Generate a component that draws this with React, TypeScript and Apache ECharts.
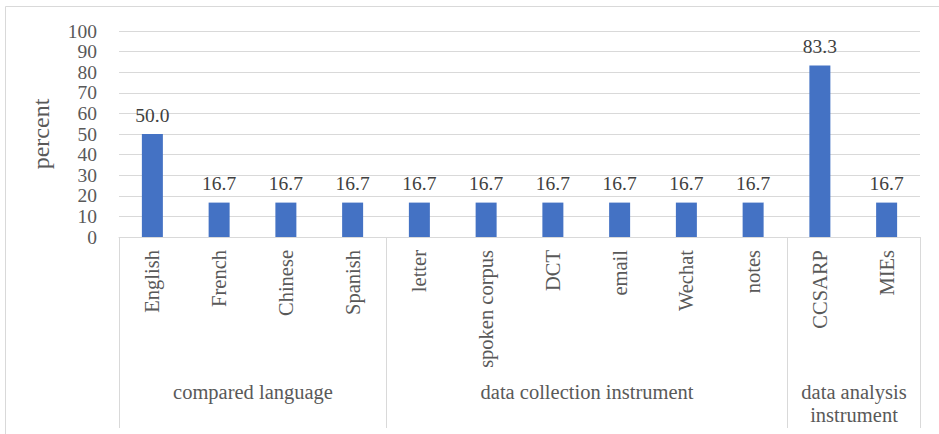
import React, { useEffect, useRef } from "react";
import * as echarts from "echarts";

// Category labels along the x axis
const categories = [
  "English", "French", "Chinese", "Spanish",
  "letter", "spoken corpus", "DCT", "email", "Wechat", "notes",
  "CCSARP", "MIEs",
];

// Percent of studies for each category
const percents = [50.0, 16.7, 16.7, 16.7, 16.7, 16.7, 16.7, 16.7, 16.7, 16.7, 83.3, 16.7];

// Second-level groups: label and number of categories in the group
const groupNames = ["compared language", "data collection instrument", "data analysis\ninstrument"];
const groupSizes = [4, 6, 2];

const FONT = "Times New Roman, Liberation Serif, DejaVu Serif, serif";
const TEXT = "#595959";
const LINE = "#d9d9d9";

export default function App() {
  const ref = useRef<HTMLDivElement>(null);

  useEffect(() => {
    if (!ref.current) return;
    const chart = echarts.init(ref.current, null, { renderer: "svg" });

    chart.setOption({
      animation: false,
      backgroundColor: "#ffffff",
      textStyle: { fontFamily: FONT },
      grid: { left: 119, right: 19, top: 31, bottom: 197 },
      xAxis: {
        type: "category",
        data: categories,
        axisLine: { show: true, lineStyle: { color: LINE, width: 1 } },
        axisTick: { show: false },
        axisLabel: {
          rotate: 90,
          margin: 13,
          color: TEXT,
          fontFamily: FONT,
          fontSize: 20.5,
          interval: 0,
        },
      },
      yAxis: {
        type: "value",
        min: 0,
        max: 100,
        interval: 10,
        name: "percent",
        nameLocation: "middle",
        nameGap: 66,
        nameRotate: 90,
        nameTextStyle: { color: TEXT, fontFamily: FONT, fontSize: 24 },
        axisLine: { show: false },
        axisTick: { show: false },
        axisLabel: { margin: 22, color: TEXT, fontFamily: FONT, fontSize: 19.5 },
        splitLine: { show: true, lineStyle: { color: LINE, width: 1 } },
      },
      series: [
        {
          type: "bar",
          data: percents,
          barWidth: 21,
          itemStyle: { color: "#4472C4" },
          label: {
            show: true,
            position: "top",
            distance: 9,
            color: "#404040",
            fontFamily: FONT,
            fontSize: 19.5,
            formatter: (p: any) => Number(p.value).toFixed(1),
          },
        },
      ],
    });

    // Group separators and group names below the category labels
    const c0 = chart.convertToPixel({ xAxisIndex: 0 }, 0) as number;
    const c1 = chart.convertToPixel({ xAxisIndex: 0 }, 1) as number;
    const half = (c1 - c0) / 2;
    const y0 = chart.convertToPixel({ yAxisIndex: 0 }, 0) as number;
    const yEnd = 428;

    const graphics: any[] = [
      {
        type: "rect",
        shape: { x: 5.5, y: 6.5, width: 960, height: 460 },
        style: { fill: "none", stroke: LINE, lineWidth: 1 },
        silent: true,
        z: -1,
      },
    ];

    let start = 0;
    const boundary = (i: number) => Math.round(c0 + (c1 - c0) * i - half) + 0.5;
    graphics.push({
      type: "line",
      shape: { x1: boundary(0), y1: y0, x2: boundary(0), y2: yEnd },
      style: { stroke: LINE, lineWidth: 1 },
    });
    groupSizes.forEach((size, g) => {
      const end = start + size;
      const xr = boundary(end);
      graphics.push({
        type: "line",
        shape: { x1: xr, y1: y0, x2: xr, y2: yEnd },
        style: { stroke: LINE, lineWidth: 1 },
      });
      const mid = (boundary(start) + xr) / 2;
      graphics.push({
        type: "text",
        x: mid,
        y: 381,
        style: {
          text: groupNames[g],
          fill: TEXT,
          fontFamily: FONT,
          fontSize: 20.5,
          align: "center",
          verticalAlign: "top",
          lineHeight: 22.5,
        },
      });
      start = end;
    });

    chart.setOption({ graphic: graphics });

    return () => chart.dispose();
  }, []);

  return (
    <div
      ref={ref}
      style={{ position: "fixed", left: 0, top: 0, width: 939, height: 434 }}
    />
  );
}
